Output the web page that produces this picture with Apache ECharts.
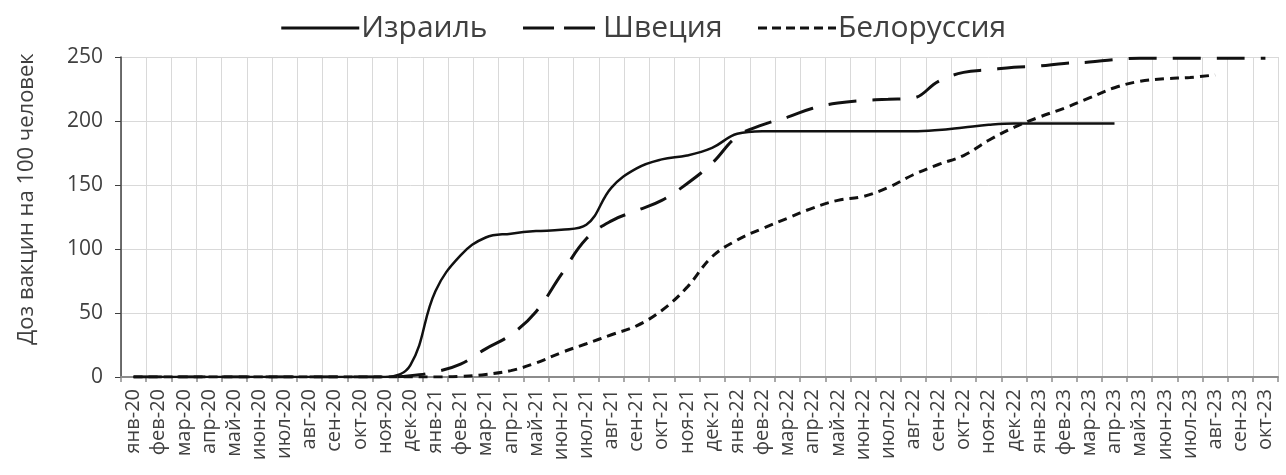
<!DOCTYPE html>
<html>
<head>
<meta charset="utf-8">
<script src="https://cdn.jsdelivr.net/npm/echarts@6/dist/echarts.min.js"></script>
<style>
html,body{margin:0;padding:0;background:#fff;}
#chart{width:1286px;height:475px;}
</style>
</head>
<body>
<div id="chart"></div>
<script>
const months = ['янв-20','фев-20','мар-20','апр-20','май-20','июн-20','июл-20','авг-20','сен-20','окт-20','ноя-20','дек-20',
  'янв-21','фев-21','мар-21','апр-21','май-21','июн-21','июл-21','авг-21','сен-21','окт-21','ноя-21','дек-21',
  'янв-22','фев-22','мар-22','апр-22','май-22','июн-22','июл-22','авг-22','сен-22','окт-22','ноя-22','дек-22',
  'янв-23','фев-23','мар-23','апр-23','май-23','июн-23','июл-23','авг-23','сен-23','окт-23'];
const israel = [0,0,0,0,0,0,0,0,0,0,0,9,
  67,95,109,112,114,115,119,148,163,170,173,179,
  190,192,192,192,192,192,192,192,193,195,197,198,
  198,198,198,198];
const sweden = [0,0,0,0,0,0,0,0,0,0,0,1,
  4,10,22,33,51,80,108,122,130,138,151,167,
  188,197,203,210,214,216,217,218,231,238,240,242,
  243,245,246,248,249,249,249,249,249,249];
const belarus = [0,0,0,0,0,0,0,0,0,0,0,0,
  0,0.5,2,5,11,19,26,33,40,52,70,94,
  107,116,124,132,138,141,148,158,166,173,185,195,
  203,210,218,226,231,233,234,236];
const yTicks = {min:0, max:250, interval:50};
const seriesNames = ['Израиль','Швеция','Белоруссия'];
const axisTitle = 'Доз вакцин на 100 человек';

const FONT = '"Open Sans"';
const TXT = '#404040';
const chart = echarts.init(document.getElementById('chart'), null, {renderer:'canvas'});
chart.setOption({
  animation:false,
  backgroundColor:'#fff',
  textStyle:{fontFamily:FONT},
  legend:{
    top:8, left:'center',
    itemWidth:78, itemHeight:14, itemGap:34,
    itemStyle:{opacity:0},
    textStyle:{fontFamily:FONT, fontSize:30, color:TXT, padding:[0,0,0,-3]},
    data:[
      {name:seriesNames[0], lineStyle:{width:3, type:'solid'}},
      {name:seriesNames[1], lineStyle:{width:3, type:[31,10]}},
      {name:seriesNames[2], lineStyle:{width:3, type:[9,5]}}
    ]
  },
  grid:{left:121, right:8, top:57, bottom:98, containLabel:false},
  graphic:[{
    type:'text', x:27, y:199, rotation:Math.PI/2,
    style:{text:axisTitle, fontFamily:FONT, fontSize:22, fill:TXT, align:'center', verticalAlign:'middle'}
  }],
  xAxis:{
    type:'category', data:months, boundaryGap:true,
    axisLine:{show:true, lineStyle:{color:'#8c8c8c', width:2}},
    axisTick:{show:true, interval:0, length:5, lineStyle:{color:'#8c8c8c', width:1.5}},
    axisLabel:{interval:0, rotate:90, fontFamily:FONT, fontSize:20, color:TXT, margin:12},
    splitLine:{show:true, interval:0, lineStyle:{color:'#d9d9d9', width:1}}
  },
  yAxis:{
    type:'value', min:yTicks.min, max:yTicks.max, interval:yTicks.interval,
    axisLine:{show:true, lineStyle:{color:'#404040', width:1.5}},
    axisTick:{show:true, length:6, lineStyle:{color:'#404040'}},
    axisLabel:{fontFamily:FONT, fontSize:21, color:TXT, margin:18},
    splitLine:{show:true, lineStyle:{color:'#d9d9d9', width:1}}
  },
  series:[
    {name:seriesNames[0], type:'line', data:israel, symbol:'none', smooth:0.4,
     lineStyle:{color:'#111', width:2.5, type:'solid'}, itemStyle:{color:'#111'}, z:5},
    {name:seriesNames[1], type:'line', data:sweden, symbol:'none', smooth:0.4,
     lineStyle:{color:'#111', width:3, type:[28,16]}, itemStyle:{color:'#111'}, z:4},
    {name:seriesNames[2], type:'line', data:belarus, symbol:'none', smooth:0.4,
     lineStyle:{color:'#111', width:3, type:[9,6]}, itemStyle:{color:'#111'}, z:3}
  ]
});
</script>
</body>
</html>
